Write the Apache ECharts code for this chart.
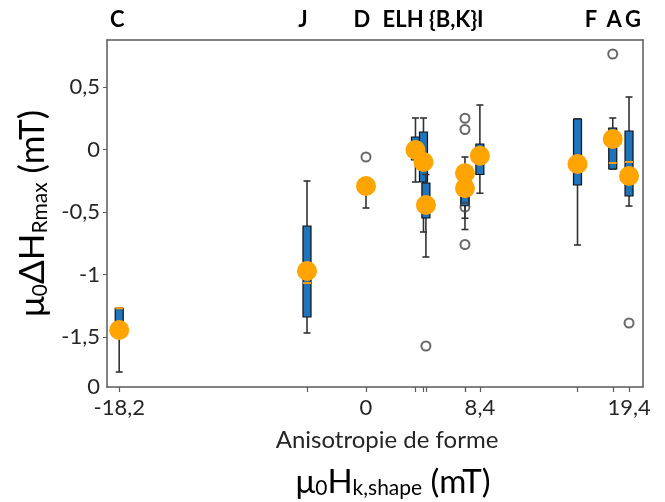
<!DOCTYPE html>
<html>
<head>
<meta charset="utf-8">
<script src="https://cdn.jsdelivr.net/npm/echarts@6/dist/echarts.min.js"></script>
<style>html,body{margin:0;padding:0;background:#fff}#c{width:665px;height:502px}</style>
</head>
<body>
<div id="c"></div>
<script>
// ---- data ----
const samples     = ['C', 'J', 'D', 'E', 'L', 'H', 'B', 'K', 'I', 'F', 'A', 'G'];
const xPos        = [-18.2, -4.35, 0, 3.65, 4.24, 4.42, 7.3, 7.3, 8.4, 15.6, 18.2, 19.4];
const whiskerLow  = [-1.78, -1.468, -0.468, -0.26, -0.66, -0.86, -0.64, -0.55, -0.35, -0.764, -0.156, -0.452];
const q1          = [-1.5, -1.34, -0.356, -0.084, -0.26, -0.548, -0.44, -0.45, -0.2, -0.284, -0.156, -0.372];
const median      = [-1.27, -1.068, -0.31, 0.0, -0.05, -0.4, -0.38, -0.36, -0.06, -0.12, -0.108, -0.1];
const q3          = [-1.27, -0.612, -0.28, 0.1, 0.14, -0.268, -0.22, -0.28, 0.044, 0.244, 0.172, 0.148];
const whiskerHigh = [-1.27, -0.252, -0.26, 0.252, 0.252, -0.2, -0.06, -0.2, 0.356, 0.244, 0.252, 0.42];
const mean        = [-1.444, -0.972, -0.292, -0.004, -0.1, -0.444, -0.19, -0.31, -0.05, -0.116, 0.084, -0.212];
const outlierSample = ['D', 'H', 'B', 'B', 'K', 'K', 'A', 'G'];
const outlierValue  = [-0.06, -1.572, 0.25, 0.16, -0.46, -0.76, 0.764, -1.388];
const xTickLabels = [-18.2, 0, 8.4, 19.4];
const yTickValues = [-1.5, -1, -0.5, 0, 0.5];
const topLabels   = ['C', 'J', 'D', 'ELH {B,K}I', 'F', 'A', 'G'];
const topLabelPos = [-18.35, -4.65, -0.3, 4.95, 16.6, 18.3, 19.7];

// ---- chart ----
const FONT = 'Lato, "Open Sans", sans-serif';
const boxData = samples.map((s, i) => [xPos[i], whiskerLow[i], q1[i], median[i], q3[i], whiskerHigh[i]]);
const meanData = samples.map((s, i) => [xPos[i], mean[i]]);
const outlierData = outlierSample.map((s, i) => [xPos[samples.indexOf(s)], outlierValue[i]]);
const fmtNum = v => String(v).replace('.', ',');
const AX = { color: '#5a5a5a', width: 1.5 };

function renderBox(params, api) {
  const x = api.value(0);
  const pL = api.coord([x, api.value(1)]);
  const p1 = api.coord([x, api.value(2)]);
  const pM = api.coord([x, api.value(3)]);
  const p3 = api.coord([x, api.value(4)]);
  const pH = api.coord([x, api.value(5)]);
  const cx = pL[0], hw = 4, cap = 3.5;
  const wStyle = { stroke: '#333', lineWidth: 1.6 };
  return {
    type: 'group',
    children: [
      { type: 'line', shape: { x1: cx, y1: pL[1], x2: cx, y2: p1[1] }, style: wStyle },
      { type: 'line', shape: { x1: cx, y1: p3[1], x2: cx, y2: pH[1] }, style: wStyle },
      { type: 'line', shape: { x1: cx - cap, y1: pL[1], x2: cx + cap, y2: pL[1] }, style: wStyle },
      { type: 'line', shape: { x1: cx - cap, y1: pH[1], x2: cx + cap, y2: pH[1] }, style: wStyle },
      { type: 'rect', shape: { x: cx - hw, y: p3[1], width: 2 * hw, height: Math.max(p1[1] - p3[1], 1) },
        style: { fill: '#1f74bb', stroke: '#111', lineWidth: 1.2 } },
      { type: 'line', shape: { x1: cx - hw, y1: pM[1], x2: cx + hw, y2: pM[1] }, style: { stroke: '#ff9a00', lineWidth: 2 } }
    ]
  };
}

const chart = echarts.init(document.getElementById('c'), null, { renderer: 'canvas' });
chart.setOption({
  animation: false,
  backgroundColor: '#fff',
  textStyle: { fontFamily: FONT },
  grid: { left: 107, top: 40, width: 536, height: 347, show: false },
  xAxis: [{
    type: 'value', min: -19.1, max: 20.43, position: 'bottom',
    splitLine: { show: false },
    axisLine: { show: true, onZero: false, lineStyle: AX },
    axisTick: { show: true, inside: false, length: 5, customValues: xPos, lineStyle: { color: '#5a5a5a', width: 1.2 } },
    axisLabel: { customValues: xTickLabels, formatter: fmtNum, fontSize: 22, color: '#262626', fontFamily: FONT, margin: 10 }
  }, {
    type: 'value', min: -19.1, max: 20.43, position: 'top',
    splitLine: { show: false }, axisLine: { show: true, onZero: false, lineStyle: AX }, axisTick: { show: false },
    axisLabel: {
      customValues: topLabelPos,
      formatter: v => { let b = 0; topLabelPos.forEach((p, i) => { if (Math.abs(p - v) < Math.abs(topLabelPos[b] - v)) b = i; }); return topLabels[b]; },
      fontSize: 22, fontWeight: 'bold', color: '#000', fontFamily: FONT, margin: 9
    }
  }],
  yAxis: [{
    type: 'value', min: -1.9, max: 0.876,
    splitLine: { show: false },
    axisLine: { show: true, onZero: false, lineStyle: AX },
    axisTick: { show: true, length: 4, customValues: yTickValues, lineStyle: { color: '#5a5a5a' } },
    axisLabel: { customValues: [-1.9].concat(yTickValues), formatter: v => v < -1.8 ? '0' : fmtNum(v), fontSize: 22, color: '#262626', fontFamily: FONT, margin: 7 },
    name: '{a|μ}{s|0}{a|ΔH}{s|Rmax}{a| (mT)}',
    nameLocation: 'middle', nameGap: 52, nameRotate: 90,
    nameTextStyle: {
      rich: {
        a: { fontSize: 35, color: '#000', fontFamily: FONT, verticalAlign: 'bottom', lineHeight: 42 },
        s: { fontSize: 21, color: '#000', fontFamily: FONT, verticalAlign: 'bottom', lineHeight: 32 }
      }
    }
  }, {
    type: 'value', min: -1.9, max: 0.876, position: 'right',
    splitLine: { show: false }, axisTick: { show: false }, axisLabel: { show: false },
    axisLine: { show: true, onZero: false, lineStyle: AX }
  }],
  graphic: [
    { type: 'text', x: 387, y: 440, style: { text: 'Anisotropie de forme', fontSize: 24, fontFamily: FONT, fill: '#262626', align: 'center', verticalAlign: 'middle' } },
    { type: 'text', x: 393, y: 479, style: {
        text: '{a|μ}{s|0}{a|H}{s|k,shape}{a| (mT)}', align: 'center', verticalAlign: 'middle',
        rich: {
          a: { fontSize: 33, fill: '#000', fontFamily: FONT, verticalAlign: 'bottom', lineHeight: 40 },
          s: { fontSize: 21, fill: '#000', fontFamily: FONT, verticalAlign: 'bottom', lineHeight: 30 }
        } } }
  ],
  series: [
    { type: 'custom', renderItem: renderBox, data: boxData, encode: { x: 0, y: [1, 2, 3, 4, 5] }, z: 2, silent: true },
    { type: 'scatter', data: outlierData, symbol: 'circle', symbolSize: 9, z: 3,
      itemStyle: { color: 'rgba(255,255,255,0)', borderColor: '#444', borderWidth: 2 } },
    { type: 'scatter', data: meanData, symbol: 'circle', symbolSize: 20, z: 4,
      itemStyle: { color: '#ffa400', opacity: 1 } }
  ]
});
</script>
</body>
</html>
